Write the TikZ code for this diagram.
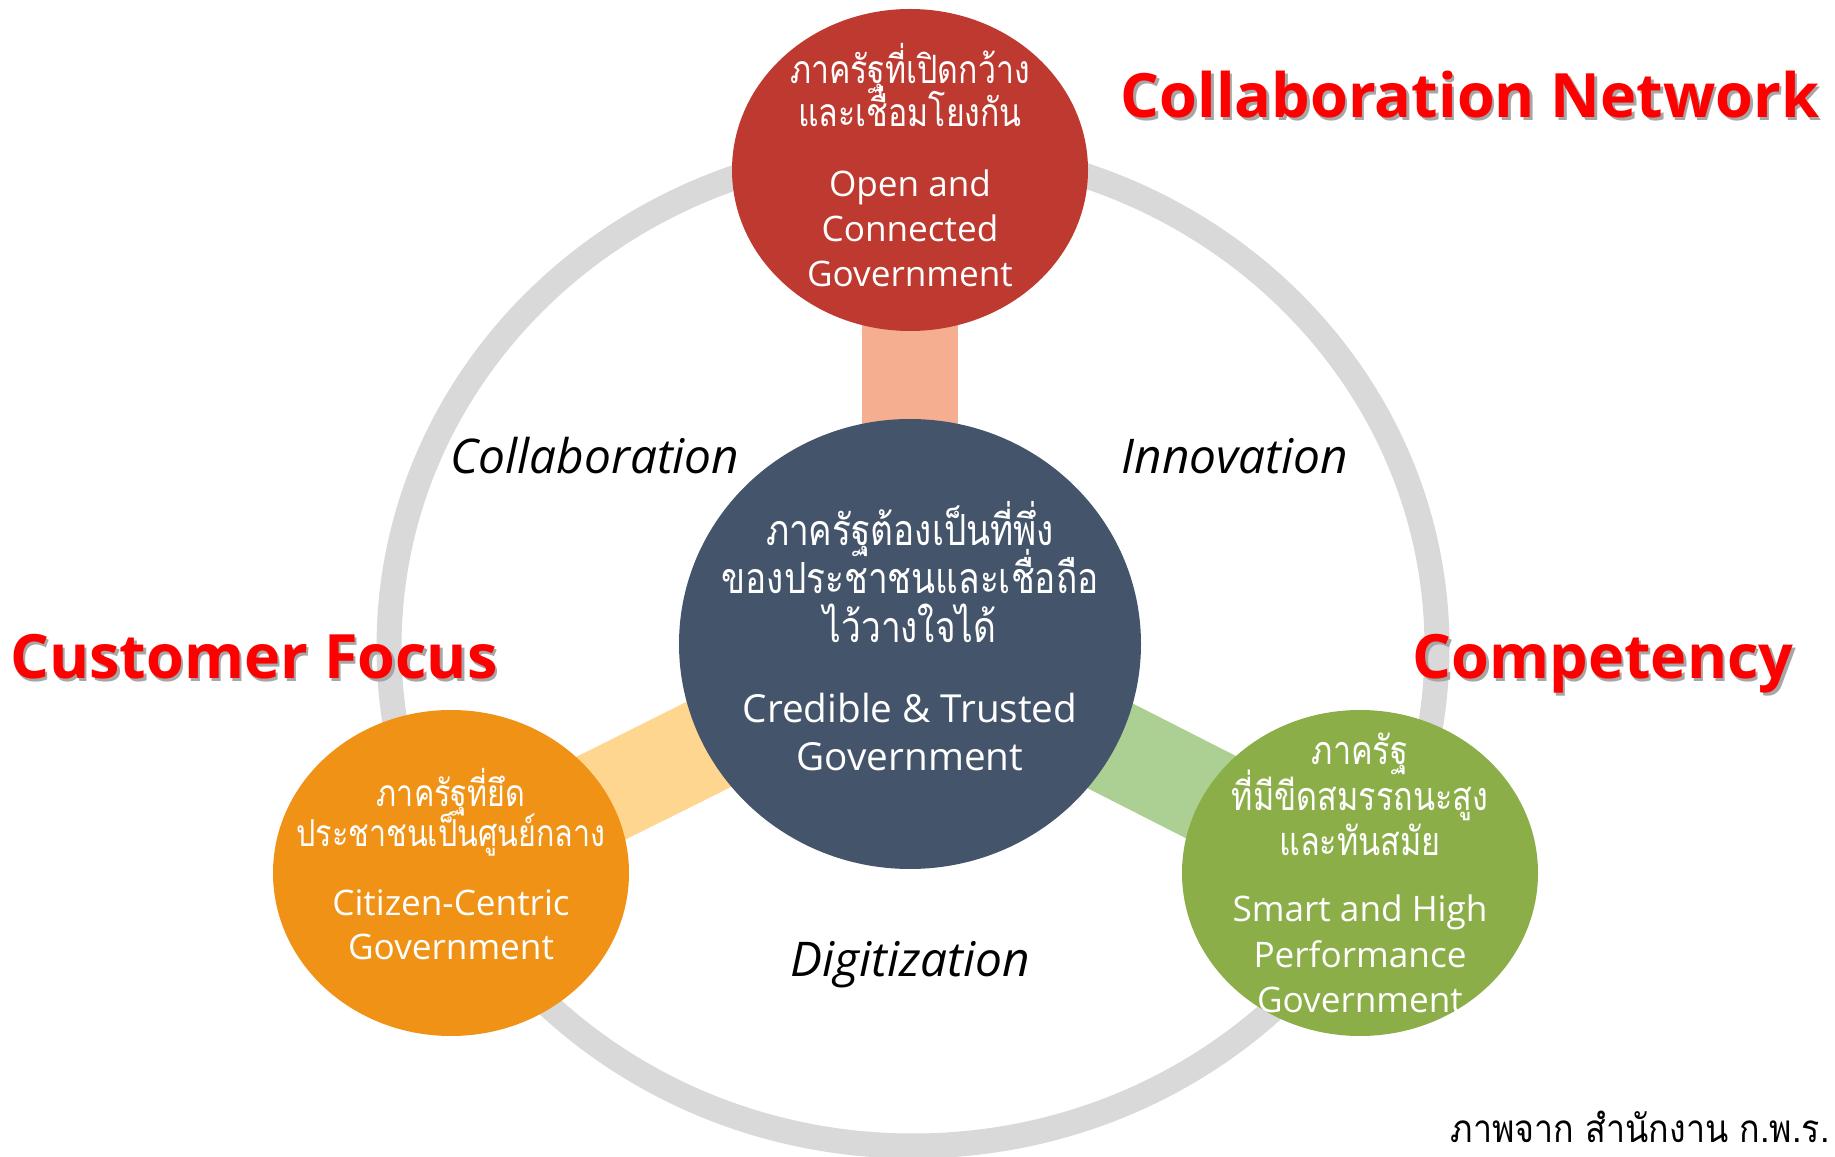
\documentclass[tikz,border=0pt]{standalone}
\usepackage{fontspec}
\setmainfont{Open Sans}
\newfontfamily\thaifont[Script=Thai,Scale=1.1,FakeStretch=0.82]{Loma}
\newfontfamily\srcfont[Script=Thai,FakeStretch=0.88]{Loma}
\usetikzlibrary{shapes.geometric,backgrounds}
\lineskiplimit=-100pt

\definecolor{ringgray}{RGB}{217,217,217}
\definecolor{openred}{RGB}{190,57,48}
\definecolor{hubblue}{RGB}{68,84,106}
\definecolor{citizenorange}{RGB}{240,146,22}
\definecolor{smartgreen}{RGB}{139,174,72}
\definecolor{toplink}{RGB}{245,174,144}
\definecolor{leftlink}{RGB}{255,214,144}
\definecolor{rightlink}{RGB}{172,208,148}
\definecolor{headred}{RGB}{255,0,0}

\newcommand\thaitxt[2]{{\thaifont\fontsize{#1}{#1}\selectfont #2}}

\begin{document}
\begin{tikzpicture}[
  blob/.style={ellipse, inner sep=0pt},
  blobtext/.style={text=white, align=center},
  link/.style={line width=0.96cm},
  theme/.style={anchor=base, font=\itshape\fontsize{13.6}{15}\selectfont},
  head/.style={anchor=base, font=\bfseries\fontsize{17.4}{20}\selectfont},
  shadow/.style={text=black!35}
]
\useasboundingbox (0,0) rectangle (18.35,11.57);
\draw[ringgray, line width=0.25cm] (9.13,5.10) ellipse [x radius=5.24, y radius=4.99];

\node[blob, fill=openred, minimum width=3.56cm, minimum height=3.22cm] (open) at (9.10,9.87) {};
\node[blob, fill=hubblue, minimum width=4.62cm, minimum height=4.50cm] (hub) at (9.10,5.13) {};
\node[blob, fill=citizenorange, minimum width=3.56cm, minimum height=3.26cm] (citizen) at (4.51,2.84) {};
\node[blob, fill=smartgreen, minimum width=3.56cm, minimum height=3.26cm] (smart) at (13.60,2.84) {};

\begin{scope}[on background layer]
\draw[link, toplink] (open.center) -- (hub.center);
\draw[link, leftlink] (citizen.center) -- (hub.center);
\draw[link, rightlink] (smart.center) -- (hub.center);
\end{scope}

\node[blobtext, font=\fontsize{10}{12.8}\selectfont] (opentext) at ([yshift=0.05cm]open)
  {\thaitxt{10.1}{ภาครัฐที่เปิดกว้าง}\\[-0.6pt]\thaitxt{10.1}{และเชื่อมโยงกัน}\\[7pt]Open and\\Connected\\Government};
\node[blobtext, font=\fontsize{11}{13.8}\selectfont] (hubtext) at ([yshift=0.08cm]hub)
  {\thaitxt{11.1}{ภาครัฐต้องเป็นที่พึ่ง}\\\thaitxt{11.1}{ของประชาชนและเชื่อถือ}\\\thaitxt{11.1}{ไว้วางใจได้}\\[9pt]Credible \& Trusted\\Government};
\node[blobtext, font=\fontsize{10}{12.5}\selectfont] (citizentext) at ([yshift=0.09cm]citizen)
  {\thaitxt{9.6}{ภาครัฐที่ยึด}\\[-1pt]\thaitxt{9.6}{ประชาชนเป็นศูนย์กลาง}\\[7pt]Citizen-Centric\\Government};
\node[blobtext, font=\fontsize{10}{12.9}\selectfont] (smarttext) at (smart)
  {\thaitxt{10.2}{ภาครัฐ}\\\thaitxt{10.2}{ที่มีขีดสมรรถนะสูง}\\\thaitxt{10.2}{และทันสมัย}\\[6pt]Smart and High\\Performance\\Government};

\node[theme] (collab) at (5.95,6.83) {Collaboration};
\node[theme] (innov) at (12.35,6.83) {Innovation};
\node[theme] (digit) at (9.10,1.80) {Digitization};

\node[head, shadow] at (14.725,10.365) {Collaboration Network};
\node[head, text=headred] (network) at (14.70,10.39) {Collaboration Network};
\node[head, shadow] at (2.565,4.755) {Customer Focus};
\node[head, text=headred] (customer) at (2.54,4.78) {Customer Focus};
\node[head, shadow] at (16.055,4.755) {Competency};
\node[head, text=headred] (compet) at (16.03,4.78) {Competency};

\node[anchor=base east, font=\srcfont\fontsize{11}{13}\selectfont] (source) at (18.42,0.14) {ภาพจาก สำนักงาน ก.พ.ร.};
\end{tikzpicture}
\end{document}
